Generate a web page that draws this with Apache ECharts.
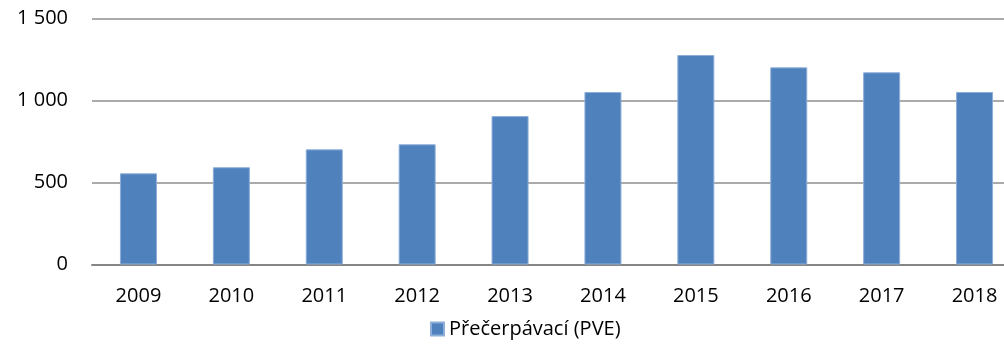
<!DOCTYPE html>
<html>
<head>
<meta charset="utf-8">
<script src="https://cdn.jsdelivr.net/npm/echarts@6/dist/echarts.min.js"></script>
<style>
  html, body { margin: 0; padding: 0; background: #fff; overflow: hidden; }
  #chart { width: 1021px; height: 344px; }
</style>
</head>
<body>
<div id="chart"></div>
<script>
// Pumped-storage hydro (PVE) values by year
const years = ['2009', '2010', '2011', '2012', '2013', '2014', '2015', '2016', '2017', '2018'];
const pveValues = [556, 593, 702, 733, 905, 1052, 1277, 1202, 1172, 1052];
const seriesName = 'Přečerpávací (PVE)';
const yTicks = [0, 500, 1000, 1500];

const font = '"Open Sans", "Liberation Sans", sans-serif';

function spaceThousands(v) {
  return String(v).replace(/\B(?=(\d{3})+(?!\d))/g, ' ');
}

const chart = echarts.init(document.getElementById('chart'), null, { renderer: 'canvas' });
chart.setOption({
  animation: false,
  backgroundColor: '#ffffff',
  grid: { left: 92, right: 0, top: 18.5, bottom: 79.5, containLabel: false },
  legend: {
    data: [seriesName],
    bottom: 0,
    left: 425,
    itemWidth: 13,
    itemHeight: 13,
    itemGap: 6,
    textStyle: { fontFamily: font, fontSize: 20, color: '#000' },
    icon: 'rect'
  },
  xAxis: {
    type: 'category',
    data: years,
    axisLine: { show: true, lineStyle: { color: '#868686', width: 2 } },
    axisTick: { show: false },
    axisLabel: { fontFamily: font, fontSize: 20, color: '#000', margin: 22 }
  },
  yAxis: {
    type: 'value',
    min: yTicks[0],
    max: yTicks[yTicks.length - 1],
    interval: 500,
    axisLine: { show: false },
    axisTick: { show: false },
    splitLine: { lineStyle: { color: '#8e8e8e', width: 1.5 } },
    axisLabel: {
      fontFamily: font, fontSize: 20, color: '#000', margin: 24,
      formatter: spaceThousands
    }
  },
  series: [{
    name: seriesName,
    type: 'bar',
    data: pveValues,
    barWidth: 37,
    itemStyle: { color: '#4F81BD', borderColor: '#8caed8', borderWidth: 1 }
  }]
});
</script>
</body>
</html>
